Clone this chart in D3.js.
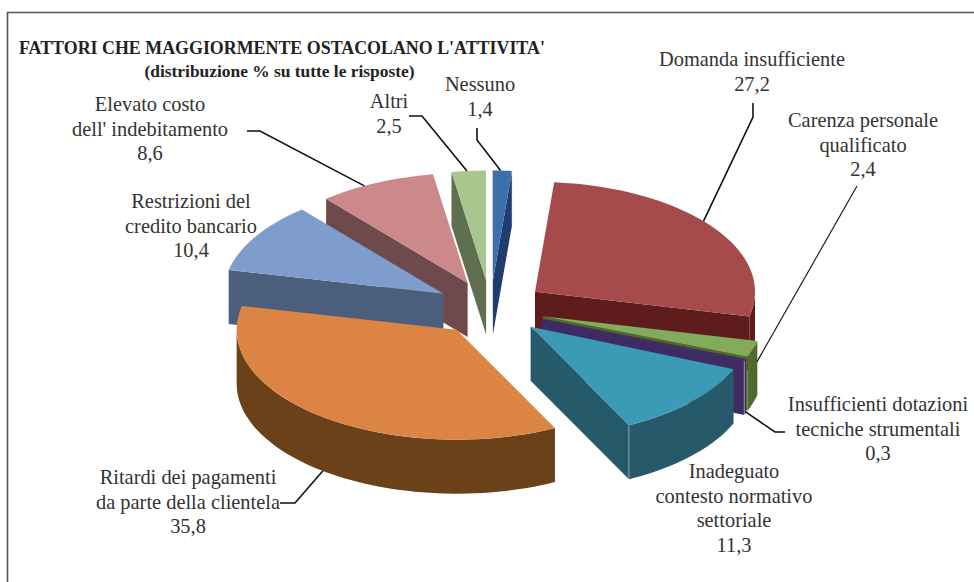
<!DOCTYPE html>
<meta charset="utf-8">
<style>
  body { margin: 0; background: #fff; }
  text { font-family: "Liberation Serif", serif; fill: #333; }
</style>
<svg class="chart"></svg>
<script src="https://d3js.org/d3.v7.min.js"></script>
<script>

  var width  = 974;
  var height = 582;

  var categories = [
    "Domanda insufficiente", "Carenza personale qualificato",
    "Insufficienti dotazioni tecniche strumentali",
    "Inadeguato contesto normativo settoriale",
    "Ritardi dei pagamenti da parte della clientela",
    "Restrizioni del credito bancario", "Elevato costo dell' indebitamento",
    "Altri", "Nessuno"
  ];
  var values = [27.2, 2.4, 0.3, 11.3, 35.8, 10.4, 8.6, 2.5, 1.4];
  var valueLabels = ["27,2", "2,4", "0,3", "11,3", "35,8", "10,4", "8,6", "2,5", "1,4"];

  var topColors  = ["#a54b4c", "#82ab5b", "#3f2b63", "#3b9ab6", "#db8444", "#7f9dcc", "#cc8989", "#a9c68f", "#3d6fab"];
  var wallColors = ["#5e1c1d", "#4f6a2c", "#3f2b63", "#26596a", "#6a4119", "#4b5f7d", "#6e4a4c", "#5e7050", "#1f3d6f"];

  // pie geometry
  var cx = 490.5, cy = 308, rx = 220, ry = 110, depth = 54, explode = 0.25;
  var rad = Math.PI / 180;

  var chart = d3.select(".chart")
      .attr("width", width)
      .attr("height", height);

  // frame is cropped on the right and at the bottom
  chart.append("path")
      .attr("d", "M7.5,582V12.5H974")
      .attr("fill", "none")
      .attr("stroke", "#555")
      .attr("stroke-width", 1.6);

  chart.append("text")
      .attr("x", 19).attr("y", 54)
      .attr("font-size", 17.9).attr("font-weight", "bold")
      .style("fill", "#222")
      .text("FATTORI CHE MAGGIORMENTE OSTACOLANO L'ATTIVITA'");
  chart.append("text")
      .attr("x", 279.5).attr("y", 77)
      .attr("text-anchor", "middle")
      .attr("font-size", 17.4).attr("font-weight", "bold")
      .style("fill", "#222")
      .text("(distribuzione % su tutte le risposte)");

  var arcs = d3.pie().sort(null)
      .startAngle(5 * rad)
      .endAngle(365 * rad)(values);

  function project(arc, r, a, z) {
    var mid = (arc.startAngle + arc.endAngle) / 2;
    return [
      cx + rx * (explode * Math.sin(mid) + r * Math.sin(a)),
      cy - ry * (explode * Math.cos(mid) + r * Math.cos(a)) + (z || 0) * depth
    ];
  }

  function arcPoints(arc, a0, a1, z) {
    var n = Math.max(2, Math.ceil((a1 - a0) / (2 * rad)));
    return d3.range(n + 1).map(function(i) {
      return project(arc, 1, a0 + (a1 - a0) * i / n, z);
    });
  }

  function radialWall(arc, a) {
    return [project(arc, 0, a, 0), project(arc, 1, a, 0), project(arc, 1, a, 1), project(arc, 0, a, 1)];
  }

  var line = d3.line();

  // back to front: left half from the top, then right half from the top
  var drawOrder = [8, 7, 6, 5, 4, 0, 1, 2, 3];

  var slices = chart.append("g")
    .selectAll("g")
    .data(drawOrder.map(function(i) { return arcs[i]; }))
    .enter().append("g");

  slices.each(function(d) {
    var g = d3.select(this);
    var a0 = d.startAngle, a1 = d.endAngle;
    var wall = wallColors[d.index];

    if (Math.sin(a0) < 0) {
      g.append("path").attr("d", line(radialWall(d, a0)) + "Z").attr("fill", wall);
    }
    if (Math.sin(a1) > 0) {
      g.append("path").attr("d", line(radialWall(d, a1)) + "Z").attr("fill", wall);
    }

    // outer rim only where it faces the viewer
    var f0 = Math.max(a0, 90 * rad), f1 = Math.min(a1, 270 * rad);
    if (f1 > f0) {
      var rim = arcPoints(d, f0, f1, 0).concat(arcPoints(d, f0, f1, 1).reverse());
      g.append("path").attr("d", line(rim) + "Z").attr("fill", wall);
    }

    var top = [project(d, 0, a0, 0)].concat(arcPoints(d, a0, a1, 0));
    g.append("path").attr("d", line(top) + "Z").attr("fill", topColors[d.index]);

    // light corner edge on the purple and teal walls
    if (a1 > 112 * rad && Math.sin(a1) > 0) {
      g.append("path")
          .attr("d", line([project(d, 1, a1, 0), project(d, 1, a1, 1)]))
          .attr("stroke", "#fff")
          .attr("stroke-opacity", 0.45)
          .attr("stroke-width", 1);
    }
  });

  // label layout: centre x, first baseline, then leader bends and where it lands on the rim
  var labelLines = [
    ["Domanda insufficiente", "27,2"],
    ["Carenza personale", "qualificato", "2,4"],
    ["Insufficienti dotazioni", "tecniche strumentali", "0,3"],
    ["Inadeguato", "contesto normativo", "settoriale", "11,3"],
    ["Ritardi dei pagamenti", "da parte della clientela", "35,8"],
    ["Restrizioni del", "credito bancario", "10,4"],
    ["Elevato costo", "dell' indebitamento", "8,6"],
    ["Altri", "2,5"],
    ["Nessuno", "1,4"]
  ];
  var labelX = [752, 863, 878, 734, 188, 191, 150, 389, 480];
  var labelY = [66, 127, 411, 478, 484, 208, 111, 108, 91];
  var leaders = [
    { bends: [[753, 103], [753, 117]], angle: 50, z: 0, w: 1.6 },
    { bends: [[857, 186]], angle: 103.5, z: 0.37, w: 1.1 },
    { bends: [[785, 432], [775, 432]], angle: 112.3, z: 0.95, w: 1.6 },
    null,
    { bends: [[280, 503], [295, 503]], angle: 217.5, z: 1, w: 1.6 },
    null,
    { bends: [[247, 131], [260, 131]], angle: 332, z: 0, w: 1.6 },
    { bends: [[409, 116], [422, 116]], angle: 355, z: 0, w: 1.6 },
    { bends: [[477, 128], [477, 140]], angle: 2, z: 0, w: 1.6 }
  ];

  chart.append("g")
    .selectAll("path")
    .data(leaders.map(function(l, i) { return { leader: l, arc: arcs[i] }; }).filter(function(d) { return d.leader; }))
    .enter().append("path")
      .attr("fill", "none")
      .attr("stroke", "#111")
      .attr("stroke-width", function(d) { return d.leader.w; })
      .attr("d", function(d) {
        return line(d.leader.bends.concat([project(d.arc, 1, d.leader.angle * rad, d.leader.z)]));
      });

  labelLines.forEach(function(lines, i) {
    var label = chart.append("text")
        .attr("text-anchor", "middle")
        .attr("font-size", 20.4);
    lines.forEach(function(t, j) {
      label.append("tspan")
          .attr("x", labelX[i])
          .attr("y", labelY[i] + j * 24.7)
          .text(t);
    });
  });

</script>
